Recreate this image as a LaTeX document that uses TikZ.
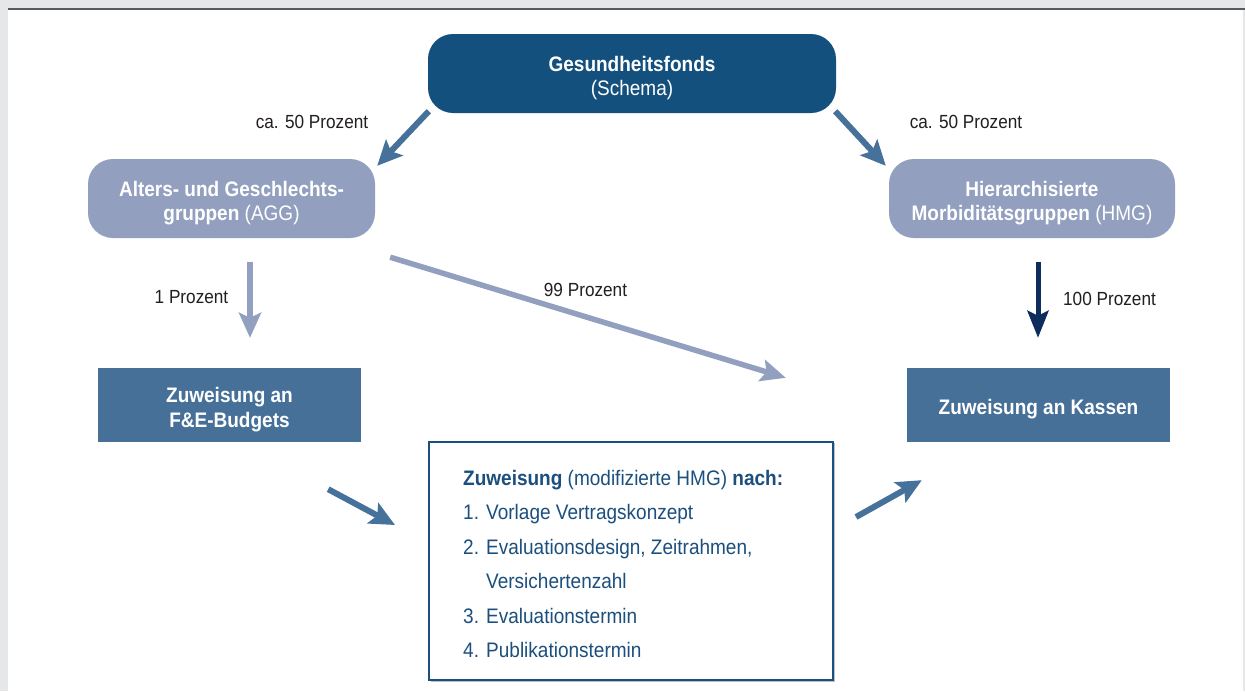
\documentclass[tikz,border=0pt]{standalone}
\usepackage{fontspec}
\setmainfont[FakeStretch=0.905]{Liberation Sans}
\usetikzlibrary{arrows.meta,calc}
\definecolor{fondsblue}{HTML}{14507D}
\definecolor{lightblue}{HTML}{929FBF}
\definecolor{midblue}{HTML}{467098}
\definecolor{arrowblue}{HTML}{46719A}
\definecolor{navy}{HTML}{0E2C5C}
\definecolor{textblue}{HTML}{1B4F7D}
\definecolor{labelgray}{HTML}{231F20}
\definecolor{bggray}{HTML}{E6E7E8}
\definecolor{linegray}{HTML}{5A5B5D}
\newcommand\toppad{\rule{0pt}{24pt}}
\tikzset{
  roundbox/.style={rectangle, rounded corners=25pt, align=center, text=white,
    font=\fontsize{21}{24.5}\selectfont, inner sep=0pt},
  flatbox/.style={rectangle, fill=midblue, align=center, text=white,
    font=\fontsize{21}{24.5}\selectfont\bfseries, inner sep=0pt,
    minimum width=263pt, minimum height=74pt},
  lbl/.style={text=labelgray, font=\fontsize{19}{20}\selectfont, inner sep=0pt},
  bigarrow/.style={line width=6pt, arrowblue, -{Stealth[length=25pt,width=23pt,inset=5pt]}},
  lightarrow/.style={line width=5.5pt, lightblue, -{Stealth[length=25pt,width=22pt,inset=5pt]}},
  navyarrow/.style={line width=5pt, navy, -{Stealth[length=27pt,width=21pt,inset=5pt]}},
}
\begin{document}
\begin{tikzpicture}[x=1pt,y=-1pt]
\useasboundingbox (0,0) rectangle (1245,691);
\fill[bggray] (0,0) rectangle (1245,691);
\fill[white] (8,9) rectangle (1243,691);
\draw[linegray, line width=2pt] (8,8.5) -- (1245,8.5);

\node[roundbox, fill=fondsblue, minimum width=408pt, minimum height=79pt] (fonds) at (632,73.5)
  {\toppad\textbf{Gesundheitsfonds}\\(Schema)};
\node[roundbox, fill=lightblue, minimum width=287pt, minimum height=79pt] (agg) at (231.5,198.5)
  {\toppad\textbf{Alters- und Geschlechts-}\\\textbf{gruppen} (AGG)};
\node[roundbox, fill=lightblue, minimum width=286pt, minimum height=79pt] (hmg) at (1032,198.5)
  {\toppad\textbf{Hierarchisierte}\\\textbf{Morbiditätsgruppen} (HMG)};
\node[flatbox] (fe) at (229.5,405) {\toppad Zuweisung an\\F\&E-Budgets};
\node[flatbox] (kassen) at (1038.5,405) {\toppad Zuweisung an Kassen};

\fill[black!25] (431,443) rectangle (835,681.5);
\node[rectangle, draw=textblue, line width=2pt, fill=white, minimum width=404pt, minimum height=238pt, inner sep=0pt] (crit) at (631,561) {};
\node[anchor=base west, inner sep=0pt, text=textblue] (critText) at (463,485)
  {\fontsize{21}{34.5}\selectfont
   \begin{tabular}[t]{@{}l@{}}
   \textbf{Zuweisung} (modifizierte HMG) \textbf{nach:}\\
   \makebox[23pt][l]{1.}Vorlage Vertragskonzept\\
   \makebox[23pt][l]{2.}Evaluationsdesign, Zeitrahmen,\\
   \makebox[23pt][l]{}Versichertenzahl\\
   \makebox[23pt][l]{3.}Evaluationstermin\\
   \makebox[23pt][l]{4.}Publikationstermin
   \end{tabular}};

% labels
\node[lbl] (l50a) at (312,122) {ca. 50 Prozent};
\node[lbl] (l50b) at (966,122) {ca. 50 Prozent};
\node[lbl] (l1) at (191.5,297) {1 Prozent};
\node[lbl] (l99) at (585.5,290) {99 Prozent};
\node[lbl] (l100) at (1109.5,299) {100 Prozent};

% arrows
\draw[bigarrow] ($(fonds.south west)+(1,-2)$) -- ($(agg.north east)+(2,7)$);
\draw[bigarrow] ($(fonds.south east)+(-1,-2)$) -- ($(hmg.north west)+(-3,7)$);
\draw[lightarrow] ($(agg.south)+(18.5,24)$) -- ($(fe.north)+(20.5,-30)$);
\draw[lightarrow] ($(agg.south east)+(15,19)$) -- ($(kassen.north west)+(-121,10)$);
\draw[navyarrow] ($(hmg.south)+(6,24)$) -- ($(kassen.north)+(-0.5,-30)$);
\draw[bigarrow] ($(fe.south east)+(-33,47)$) -- ($(crit.north west)+(-33,84)$);
\draw[bigarrow] ($(crit.east)+(22,-44)$) -- ($(kassen.south west)+(15,38)$);
\end{tikzpicture}
\end{document}
